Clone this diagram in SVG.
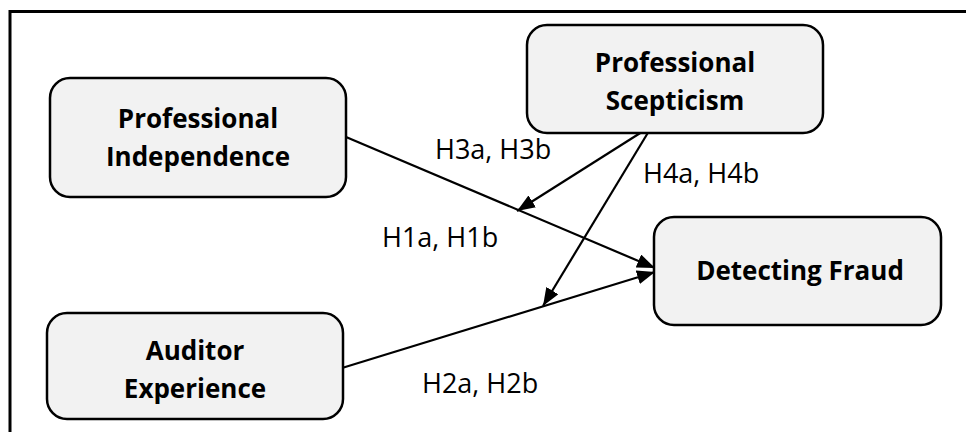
<svg xmlns="http://www.w3.org/2000/svg" width="966" height="432" viewBox="0 0 966 432">
<style>
.box{fill:#f2f2f2;stroke:#000;stroke-width:2.5}
.t{font-family:"Open Sans","Liberation Sans",sans-serif;font-weight:bold;font-size:26px;fill:#000;text-anchor:middle}
.l{font-family:"Open Sans","Liberation Sans",sans-serif;font-size:27px;fill:#000}
.c{stroke:#000;stroke-width:2.2;fill:none;marker-end:url(#ah)}
</style>
<defs>
<marker id="ah" viewBox="0 0 18 14" refX="18" refY="7" markerWidth="18" markerHeight="14" markerUnits="userSpaceOnUse" orient="auto">
<path d="M0,0 L18,7 L0,14 z" fill="#000"/>
</marker>
</defs>
<rect width="966" height="432" fill="#fff"/>
<path d="M10,432 V11.5 H966" fill="none" stroke="#000" stroke-width="3"/>
<g id="connectors">
<line class="c" x1="346" y1="137" x2="655" y2="268"/>
<line class="c" x1="342" y1="368" x2="655" y2="272"/>
<line class="c" x1="645" y1="130" x2="517" y2="211"/>
<line class="c" x1="649" y1="131" x2="543" y2="306"/>
</g>
<g id="professional-independence">
<rect class="box" x="50" y="78" width="296" height="119" rx="20"/>
<text class="t" x="198" y="128">Professional</text>
<text class="t" x="198" y="166">Independence</text>
</g>
<g id="professional-scepticism">
<rect class="box" x="527" y="25" width="296" height="108" rx="20"/>
<text class="t" x="675" y="72">Professional</text>
<text class="t" x="675" y="110">Scepticism</text>
</g>
<g id="detecting-fraud">
<rect class="box" x="654" y="217" width="287" height="108" rx="20"/>
<text class="t" x="800" y="280">Detecting Fraud</text>
</g>
<g id="auditor-experience">
<rect class="box" x="47" y="313" width="296" height="106" rx="20"/>
<text class="t" x="195" y="360">Auditor</text>
<text class="t" x="195" y="398">Experience</text>
</g>
<g id="labels">
<text class="l" x="435" y="159">H3a, H3b</text>
<text class="l" x="382" y="247">H1a, H1b</text>
<text class="l" x="643" y="183">H4a, H4b</text>
<text class="l" x="422" y="393">H2a, H2b</text>
</g>
</svg>
